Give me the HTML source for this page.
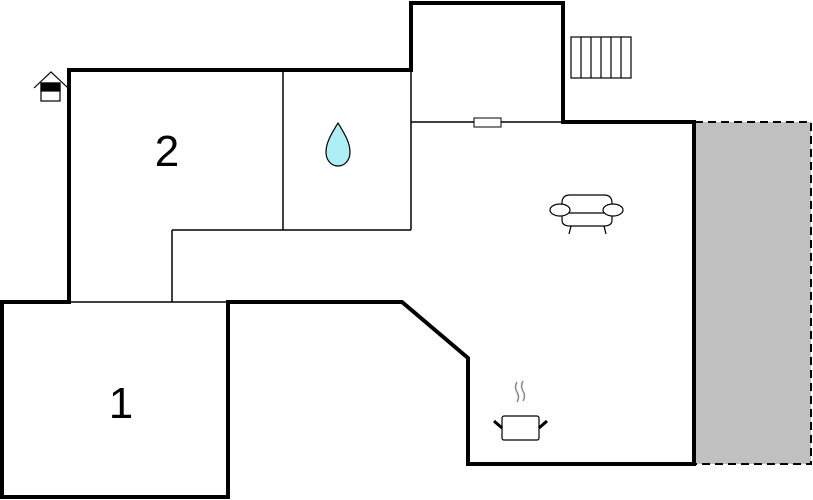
<!DOCTYPE html>
<html><head><meta charset="utf-8"><style>html,body{margin:0;padding:0;background:#fff}svg{display:block}</style></head>
<body>
<svg width="813" height="500" viewBox="0 0 813 500" xmlns="http://www.w3.org/2000/svg">
<rect width="813" height="500" fill="#fff"/>
<!-- terrace -->
<rect x="695" y="122" width="116" height="342" fill="#c0c0c0"/>
<polyline points="695,122 811,122 811,464 695,464" fill="none" stroke="#000" stroke-width="2" stroke-dasharray="8,5"/>
<!-- thin walls -->
<g stroke="#000" stroke-width="1.5" fill="none">
<line x1="69" y1="302" x2="228" y2="302"/>
<line x1="172" y1="230" x2="172" y2="302"/>
<line x1="172" y1="230" x2="411" y2="230"/>
<line x1="283" y1="70" x2="283" y2="230"/>
<line x1="411" y1="70" x2="411" y2="230"/>
<line x1="411" y1="122" x2="563" y2="122"/>
</g>
<rect x="474" y="118" width="27" height="9" fill="#fff" stroke="#000" stroke-width="1"/>
<!-- thick outline -->
<polygon points="69,70 411,70 411,3 563,3 563,122 694,122 694,464 468,464 468,358 402,302 228,302 228,497 2,497 2,302 69,302" fill="none" stroke="#000" stroke-width="4" stroke-linejoin="miter"/>
<!-- stairs -->
<g stroke="#000" stroke-width="1.2" fill="none">
<rect x="571" y="37" width="60" height="41"/>
<line x1="581" y1="37" x2="581" y2="78"/><line x1="591" y1="37" x2="591" y2="78"/>
<line x1="601" y1="37" x2="601" y2="78"/><line x1="611" y1="37" x2="611" y2="78"/>
<line x1="621" y1="37" x2="621" y2="78"/>
</g>
<!-- house icon -->
<g stroke="#000" stroke-width="1.2" fill="none">
<polyline points="34,88 51,72 68,88"/>
<rect x="41" y="83" width="19" height="18" fill="#fff"/>
<rect x="41" y="83" width="19" height="8" fill="#000"/>
</g>
<!-- drop -->
<path d="M338,123 C332,133 326,142 326,152 C326,160 331,166 338,166 C345,166 350,160 350,152 C350,142 344,133 338,123 Z" fill="#aeeff5" stroke="#000" stroke-width="1.2"/>
<!-- sofa -->
<g stroke="#000" stroke-width="1.2" fill="#fff">
<path d="M562,212 L562,203 Q562,195 570,195 L604,195 Q612,195 612,203 L612,212"/>
<path d="M562,212 L562,220 Q562,226 570,226 L604,226 Q612,226 612,220 L612,212"/>
<line x1="566" y1="213" x2="608" y2="213"/>
<ellipse cx="560" cy="210" rx="10" ry="6"/>
<ellipse cx="613" cy="210" rx="10" ry="6"/>
<line x1="571" y1="226" x2="569" y2="234"/>
<line x1="604" y1="226" x2="606" y2="234"/>
</g>
<!-- pot -->
<g fill="none">
<path d="M517,382 q-3,5 0,10 q3,5 0,10 M523,381 q-3,5 0,10 q3,5 0,10" stroke="#888" stroke-width="1.5"/>
<rect x="502" y="416" width="37" height="24" rx="2" fill="#fff" stroke="#000" stroke-width="1.2"/>
<line x1="494" y1="421" x2="502" y2="428" stroke="#000" stroke-width="3"/>
<line x1="547" y1="421" x2="539" y2="428" stroke="#000" stroke-width="3"/>
</g>
<text x="167" y="166" font-family="Liberation Sans, sans-serif" font-size="44" text-anchor="middle">2</text>
<text x="121" y="418" font-family="Liberation Sans, sans-serif" font-size="44" text-anchor="middle">1</text>
</svg>
</body></html>
